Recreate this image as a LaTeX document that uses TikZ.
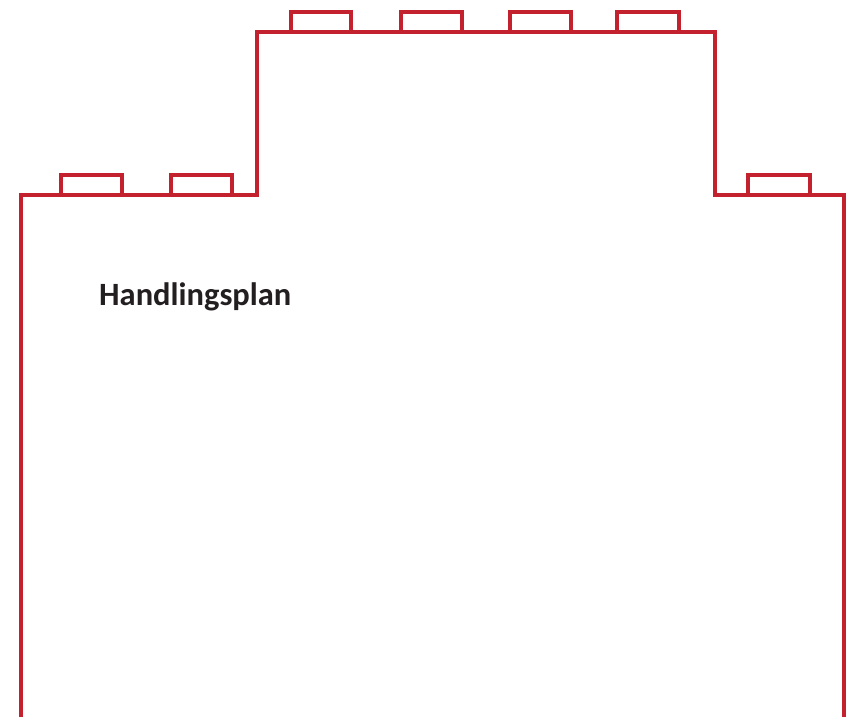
\documentclass[tikz,border=0pt]{standalone}
\usepackage{fontspec}
\setmainfont{Carlito}
\usetikzlibrary{positioning}
\definecolor{wallred}{HTML}{C4212E}
\definecolor{textgray}{HTML}{231F20}

\begin{document}
\begin{tikzpicture}[x=1pt,y=-1pt,
  wall/.style={draw=wallred,line width=3.5pt,line join=miter},
  bump/.style={draw=wallred,line width=3.5pt},
  title/.style={font=\fontsize{32.5}{36}\selectfont\bfseries,text=textgray,anchor=base west,inner sep=0pt}]
\useasboundingbox (0,0) rectangle (852,717);

% --- outline: low wing, raised middle, low wing ---
\draw[wall] (21,717) -- (21,195) -- (257,195) -- (257,32)
  -- (715,32) -- (715,195) -- (844,195) -- (844,717);

% --- bumps on the roofs ---
\foreach \a/\b in {61/122,171/232,748/810}{
  \draw[bump] (\a,195) -- (\a,175) -- (\b,175) -- (\b,195);}
\foreach \a/\b in {291/351,401/462,510/571,617/679}{
  \draw[bump] (\a,32) -- (\a,12) -- (\b,12) -- (\b,32);}

% --- title ---
\node[title] (plan) at (99,305) {Handlingsplan};
\end{tikzpicture}
\end{document}
